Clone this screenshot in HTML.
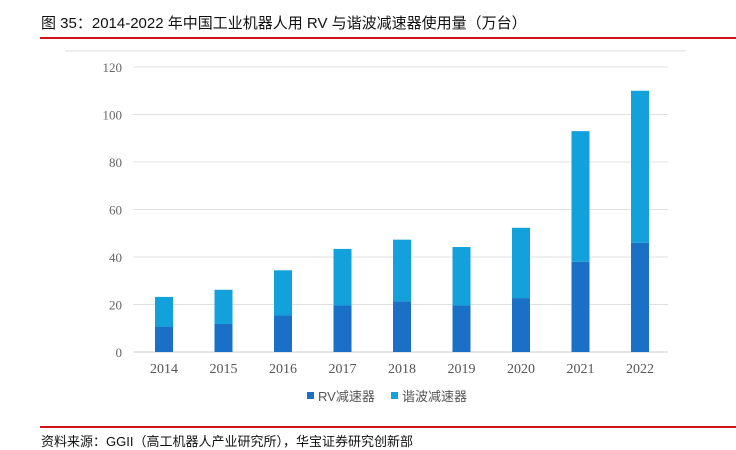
<!DOCTYPE html>
<html><head><meta charset="utf-8"><style>
body{margin:0;width:736px;height:447px;background:#fff;overflow:hidden;position:relative;font-family:"Liberation Sans","Noto Sans CJK SC",sans-serif}
.t{position:absolute;left:41px;top:12px;font-size:15px;color:#111}
.r{position:absolute;left:40px;width:696px;height:2px;background:#d0121b}
.s{position:absolute;left:41px;top:431px;font-size:13px;color:#111}
</style></head><body>
<div class="t">图 35：2014-2022 年中国工业机器人用 RV 与谐波减速器使用量（万台）</div>
<div class="r" style="top:37px"></div>
<svg id="c" width="736" height="447" style="position:absolute;left:0;top:0"></svg>
<div class="r" style="top:426px"></div>
<div class="s">资料来源：GGII（高工机器人产业研究所），华宝证券研究创新部</div>
<script>
const years=["2014","2015","2016","2017","2018","2019","2020","2021","2022"];
const rv=[10.7,11.8,15.4,19.6,21.3,19.6,22.7,38,46];
const harmonic=[12.5,14.4,19,23.8,26,24.6,29.6,55,64];
const ticks=[0,20,40,60,80,100,120];
const NS="http://www.w3.org/2000/svg",svg=document.getElementById('c');
function el(t,a,txt){const e=document.createElementNS(NS,t);for(const k in a)e.setAttribute(k,a[k]);if(txt!=null)e.textContent=txt;svg.appendChild(e);return e;}
const y=v=>352-v*(285/120), x=i=>164+i*59.5;
let fr=el('line',{x1:65,x2:686,y1:51,y2:51,stroke:'#ddd'});


ticks.forEach(t=>{
 let g=el('line',{x1:133,x2:668,y1:y(t),y2:y(t),stroke:t?'#e0e0e0':'#ccc'});
 
 
 let l=el('text',{x:122,y:y(t)+5,'text-anchor':'end','font-size':13,fill:'#666','font-family':'Liberation Serif,serif'},t);
 
 
});
years.forEach((yr,i)=>{
 let a=el('rect',{x:x(i)-9,y:y(rv[i]),width:18,height:y(0)-y(rv[i]),fill:'#1a6fc6'});
 
 
 let b=el('rect',{x:x(i)-9,y:y(rv[i]+harmonic[i]),width:18,height:y(rv[i])-y(rv[i]+harmonic[i]),fill:'#13a1dc'});
 
 
 let l=el('text',{x:x(i),y:373,'text-anchor':'middle','font-size':14,fill:'#555','font-family':'Liberation Serif,serif'},yr);
 
 
});
let s1=el('rect',{x:307,y:392,width:7,height:7,fill:'#1a6fc6'});


let t1=el('text',{x:318,y:401,'font-size':13,fill:'#555'},'RV减速器');


let s2=el('rect',{x:391,y:392,width:7,height:7,fill:'#13a1dc'});


let t2=el('text',{x:402,y:401,'font-size':13,fill:'#555'},'谐波减速器');


</script>
</body></html>
